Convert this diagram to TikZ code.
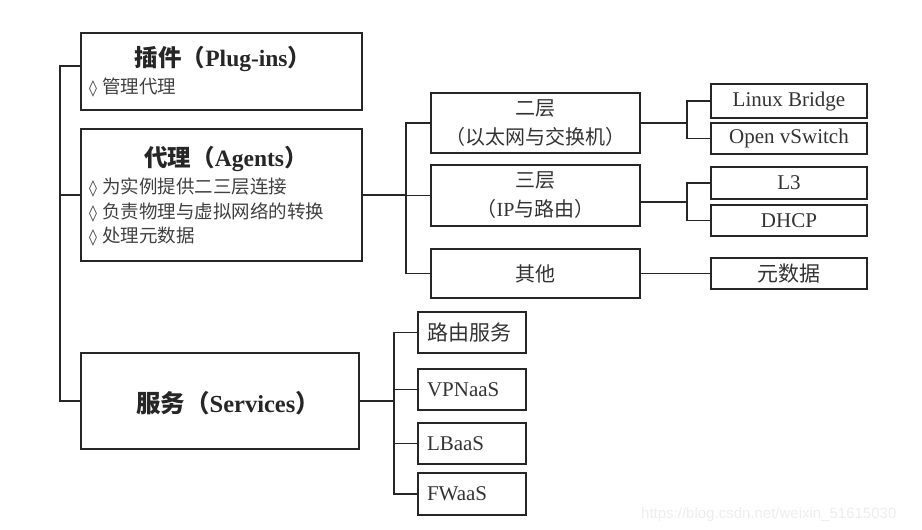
\documentclass[tikz,border=0pt]{standalone}
\usepackage{fontspec}
\setmainfont{Liberation Serif}
\newfontfamily\cjk{Noto Sans CJK SC}
\newfontfamily\lozfont{DejaVu Sans}
\newfontfamily\markfont{Liberation Sans}
\usepackage{tikz}
\usetikzlibrary{calc}
\tikzset{
  box/.style={draw=black!85, line width=1.6pt, rectangle, inner sep=0pt},
  link/.style={draw=black!85, line width=1.6pt},
  title/.style={font=\fontsize{23.5}{28}\selectfont\bfseries, text=black!85, inner sep=0pt},
  bullets/.style={font=\fontsize{18.5}{24.5}\selectfont\cjk, text=black!75, align=left, anchor=west, inner sep=0pt},
  layer/.style={box, minimum width=209, minimum height=60, align=center, font=\fontsize{20}{29}\selectfont, text=black!80},
  leaf/.style={box, minimum width=156, minimum height=32, font=\fontsize{21}{25}\selectfont, text=black!80},
  svc/.style={box, minimum width=108, minimum height=41, text width=90pt, inner xsep=9pt, align=left, font=\fontsize{21}{25}\selectfont, text=black!80},
}
\newcommand{\zh}[1]{{\cjk #1}}
\newcommand{\loz}{{\lozfont\fontsize{16}{16}\selectfont\char"25CA}\hspace{5pt}}

\begin{document}
\begin{tikzpicture}[x=1pt, y=-1pt]
\useasboundingbox (0,0) rectangle (922,530);
\newcommand{\trunkx}{60}
\newcommand{\midx}{406}
\newcommand{\leafx}{687}
\newcommand{\svcx}{394}
%% left column
\node (plug) [box, minimum width=281, minimum height=77] at (221.5,71.5) {};
\node (plugtitle) [title] at (223,59) {\zh{插件（}Plug-ins\zh{）}};
\node (plugtext) [bullets] at (89,88) {\loz 管理代理};
\node (agent) [box, minimum width=281, minimum height=132] at (221.5,195) {};
\node (agenttitle) [title] at (226,159) {\zh{代理（}Agents\zh{）}};
\node (agenttext) [bullets] at (89,212.5) {\loz 为实例提供二三层连接\\ \loz 负责物理与虚拟网络的转换\\ \loz 处理元数据};
\node (serv) [box, minimum width=278, minimum height=96] at (220,401) {};
\node (servtitle) [title, font=\fontsize{24.5}{28}\selectfont\bfseries] at (228,403) {\zh{服务（}Services\zh{）}};
%% layers
\node (l2) [layer] at (535.5,123) {\zh{二层}\\ \zh{（以太网与交换机）}};
\node (l3) [layer, minimum height=61] at (535.5,195.5) {\zh{三层}\\ \zh{（}IP\zh{与路由）}};
\node (other) [layer, minimum height=49] at (535.5,273.5) {\zh{其他}};
%% leaves
\node (lb) [leaf, minimum height=34] at (789,101) {Linux Bridge};
\node (ovs) [leaf, minimum height=31] at (789,138.5) {Open vSwitch};
\node (l3x) [leaf] at (789,183) {L3};
\node (dhcp) [leaf, minimum height=31] at (789,220.5) {DHCP};
\node (meta) [leaf, minimum height=31] at (789,273.5) {\zh{元数据}};
%% services
\node (route) [svc] at (472,332.5) {\zh{路由服务}};
\node (vpn) [svc] at (472,389.5) {VPNaaS};
\node (lbaas) [svc] at (472,443.5) {LBaaS};
\node (fw) [svc, minimum height=42] at (472,494) {FWaaS};
%% connectors
\coordinate (trunk) at (\trunkx,0);
\coordinate (midbus) at (\midx,0);
\coordinate (leafbus) at (\leafx,0);
\coordinate (svcbus) at (\svcx,0);
\coordinate (plugin) at ([yshift=5.5pt]plug.west);
\draw[link] (plugin) -- (plugin -| trunk) -- (serv.west -| trunk) -- (serv.west);
\draw[link] (agent.west) -- (agent.west -| trunk);
\draw[link] (agent.east) -- (agent.east -| midbus);
\draw[link] (l2.west) -- (l2.west -| midbus) -- (other.west -| midbus) -- (other.west);
\draw[link] (l3.west) -- (l3.west -| midbus);
\draw[link] (lb.west) -- (lb.west -| leafbus) -- (ovs.west -| leafbus) -- (ovs.west);
\draw[link] (l2.east) -- (l2.east -| leafbus);
\draw[link] (l3x.west) -- (l3x.west -| leafbus) -- (dhcp.west -| leafbus) -- (dhcp.west);
\coordinate (l3in) at ($(l3x.west)!0.5!(dhcp.west)$);
\draw[link] (l3in -| l3.east) -- (l3in -| leafbus);
\draw[link] (other.east) -- (meta.west);
\draw[link] (serv.east) -- (serv.east -| svcbus);
\draw[link] (route.west) -- (route.west -| svcbus) -- (fw.west -| svcbus) -- (fw.west);
\draw[link] (vpn.west) -- (vpn.west -| svcbus);
\draw[link] (lbaas.west) -- (lbaas.west -| svcbus);
%% watermark
\node (mark) [anchor=base west, inner sep=0pt, text=black!7, font=\markfont\fontsize{15}{18}\selectfont] at (641,518) {https://blog.csdn.net/weixin\_51615030};
\end{tikzpicture}
\end{document}
